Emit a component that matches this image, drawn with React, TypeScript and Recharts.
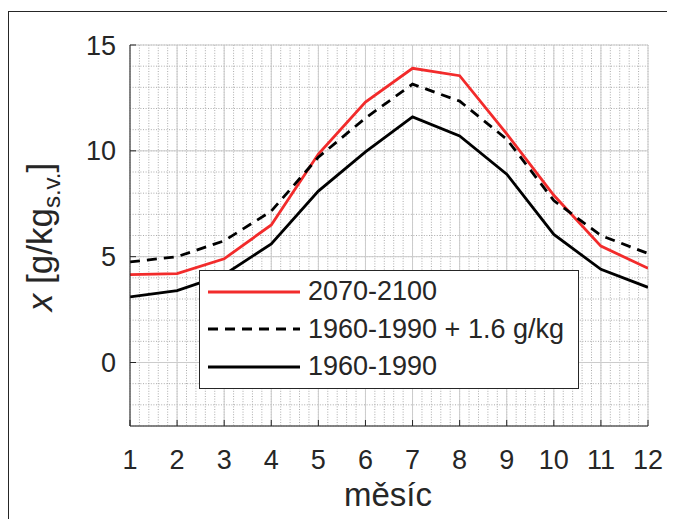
import React from 'react';
import { LineChart, Line, XAxis, YAxis, CartesianGrid, Legend } from 'recharts';

const months = [1, 2, 3, 4, 5, 6, 7, 8, 9, 10, 11, 12];
const future = [4.15, 4.2, 4.9, 6.5, 9.85, 12.3, 13.9, 13.55, 10.8, 7.9, 5.5, 4.45];
const pastShifted = [4.75, 5.0, 5.75, 7.15, 9.7, 11.55, 13.15, 12.35, 10.55, 7.65, 6.0, 5.15];
const past = [3.1, 3.4, 4.15, 5.6, 8.1, 9.95, 11.6, 10.7, 8.9, 6.05, 4.4, 3.55];
const seriesNames = ['2070-2100', '1960-1990 + 1.6 g/kg', '1960-1990'];
const yTicks = [0, 5, 10, 15];
const xDomain = [1, 12];
const yDomain = [-3, 15];

// minor grid: every 0.2 month and every 1 g/kg
const minorX = Array.from({ length: 56 }, (_, i) => 1 + i * 0.2);
const minorY = Array.from({ length: 19 }, (_, i) => -3 + i);

const data = months.map((m, i) => ({
  month: m,
  future: future[i],
  shifted: pastShifted[i],
  past: past[i],
}));

const FONT = '"Liberation Sans", Arial, Helvetica, sans-serif';
const INK = '#262626';

const minorVertical = ({ offset }: any) =>
  minorX.map((v) => offset.left + ((v - xDomain[0]) / (xDomain[1] - xDomain[0])) * offset.width);
const minorHorizontal = ({ offset }: any) =>
  minorY.map((v) => offset.top + ((yDomain[1] - v) / (yDomain[1] - yDomain[0])) * offset.height);

const renderLegend = (props: any) => {
  const payload = [...(props.payload || [])].sort(
    (a: any, b: any) => seriesNames.indexOf(a.value) - seriesNames.indexOf(b.value)
  );
  return (
    <div
      style={{
        background: '#fff',
        border: `1.5px solid ${INK}`,
        width: 380,
        height: 119,
        boxSizing: 'border-box',
        padding: '2px 0 0 8px',
        fontFamily: FONT,
      }}
    >
      {payload.map((entry: any) => (
        <div key={entry.value} style={{ display: 'flex', alignItems: 'center', height: 37.5 }}>
          <svg width={92} height={10}>
            <line
              x1={0}
              x2={92}
              y1={5}
              y2={5}
              stroke={entry.color}
              strokeWidth={2.8}
              strokeDasharray={entry.payload?.strokeDasharray}
            />
          </svg>
          <span style={{ marginLeft: 8, fontSize: 27, color: INK, lineHeight: 1 }}>{entry.value}</span>
        </div>
      ))}
    </div>
  );
};

const YLabel = () => (
  <text
    transform="translate(52, 237) rotate(-90)"
    textAnchor="middle"
    fontFamily={FONT}
    fontSize={35}
    fill={INK}
  >
    <tspan fontStyle="italic">x</tspan>
    <tspan> [g/kg</tspan>
    <tspan fontSize={24} dy={8}>s.v.</tspan>
    <tspan dy={-8}>]</tspan>
  </text>
);

export default function App() {
  return (
    <div style={{ position: 'relative', margin: -8, width: 675, height: 527, background: '#fff', overflow: 'hidden' }}>
      <div
        style={{
          position: 'absolute',
          left: 8,
          top: 11,
          width: 700,
          height: 600,
          borderLeft: `1.5px solid ${INK}`,
          borderTop: `1.5px solid ${INK}`,
          pointerEvents: 'none',
        }}
      />
      <LineChart width={675} height={527} data={data} margin={{ top: 45, right: 27, left: 60, bottom: 41 }}>
        <CartesianGrid
          stroke="#ababab"
          strokeDasharray="1 1.6"
          verticalCoordinatesGenerator={minorVertical}
          horizontalCoordinatesGenerator={minorHorizontal}
        />
        <CartesianGrid stroke="#cccccc" />
        <XAxis
          dataKey="month"
          type="number"
          domain={xDomain}
          ticks={months}
          allowDataOverflow
          height={60}
          tickSize={-6}
          tickMargin={30}
          stroke={INK}
          tick={{ fill: INK, fontSize: 27, fontFamily: FONT }}
          label={{
            content: () => (
              <text x={388} y={506} textAnchor="middle" fontFamily={FONT} fontSize={33} fill={INK}>
                měsíc
              </text>
            ),
          }}
        />
        <XAxis
          xAxisId="top"
          orientation="top"
          dataKey="month"
          type="number"
          domain={xDomain}
          ticks={months}
          allowDataOverflow
          height={0}
          tickSize={-6}
          tick={false}
          stroke={INK}
        />
        <YAxis
          type="number"
          domain={yDomain}
          ticks={yTicks}
          allowDataOverflow
          width={70}
          tickSize={-6}
          tickMargin={20}
          stroke={INK}
          tick={{ fill: INK, fontSize: 27, fontFamily: FONT }}
          label={{ content: () => <YLabel /> }}
        />
        <YAxis
          yAxisId="right"
          orientation="right"
          type="number"
          domain={yDomain}
          ticks={yTicks}
          allowDataOverflow
          width={0}
          tickSize={-6}
          tick={false}
          stroke={INK}
        />
        <Line
          dataKey="future"
          name={seriesNames[0]}
          stroke="#f22b2b"
          strokeWidth={2.8}
          dot={false}
          isAnimationActive={false}
        />
        <Line
          dataKey="shifted"
          name={seriesNames[1]}
          stroke="#000"
          strokeWidth={2.8}
          strokeDasharray="10 7"
          dot={false}
          isAnimationActive={false}
        />
        <Line
          dataKey="past"
          name={seriesNames[2]}
          stroke="#000"
          strokeWidth={2.8}
          dot={false}
          isAnimationActive={false}
        />
        <Legend
          layout="vertical"
          align="center"
          verticalAlign="middle"
          content={renderLegend}
          wrapperStyle={{ position: 'absolute', left: 199, top: 270, width: 380 }}
        />
      </LineChart>
    </div>
  );
}
